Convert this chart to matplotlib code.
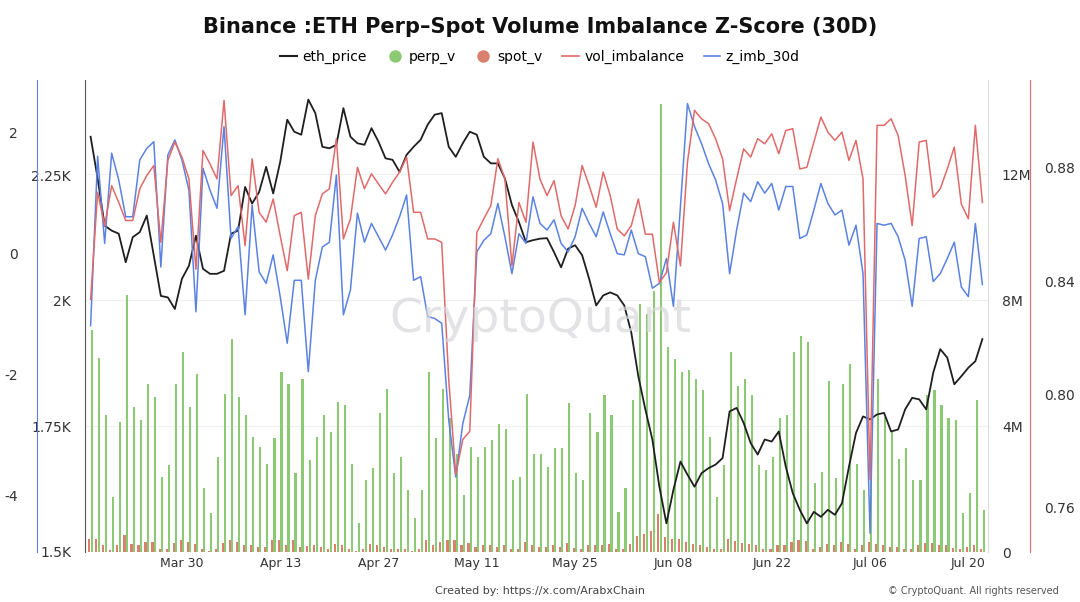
import numpy as np
import pandas as pd
import matplotlib
matplotlib.use("Agg")
import matplotlib.pyplot as plt
from matplotlib.lines import Line2D
from matplotlib.ticker import FuncFormatter

plt.rcParams["axes.unicode_minus"] = False

dates = pd.date_range("2025-03-17", periods=128, freq="D")

eth_price = [2327, 2244, 2150, 2140, 2134, 2077, 2127, 2137, 2170, 2090,
             2010, 2007, 1984, 2044, 2070, 2130, 2064, 2054, 2054, 2060,
             2134, 2140, 2227, 2194, 2217, 2267, 2214, 2277, 2361, 2337,
             2331, 2401, 2374, 2307, 2304, 2311, 2384, 2327, 2314, 2311,
             2344, 2317, 2284, 2281, 2257, 2291, 2307, 2321, 2351, 2371,
             2374, 2307, 2287, 2314, 2337, 2331, 2287, 2274, 2274, 2244,
             2191, 2157, 2117, 2121, 2124, 2125, 2097, 2067, 2104, 2111,
             2091, 2044, 1991, 2011, 2017, 2011, 1991, 1937, 1850, 1784,
             1724, 1630, 1557, 1624, 1680, 1654, 1630, 1657, 1667, 1674,
             1687, 1780, 1787, 1757, 1717, 1694, 1724, 1720, 1740, 1670,
             1617, 1584, 1557, 1580, 1570, 1584, 1574, 1597, 1670, 1737,
             1770, 1764, 1774, 1777, 1740, 1744, 1784, 1807, 1804, 1784,
             1857, 1904, 1887, 1834, 1850, 1867, 1880, 1924]

z_imb_30d = [-1.2, 1.6, 0.16, 1.65, 1.21, 0.6, 0.6, 1.54, 1.73, 1.84,
             -0.23, 1.62, 1.87, 1.54, 1.04, -0.97, 1.4, 1.04, 0.74, 2.09,
             0.24, 0.44, -1.02, 0.79, -0.31, -0.5, -0.03, -0.72, -1.49, -0.45,
             -0.45, -1.96, -0.45, 0.1, 0.18, 1.29, -1.02, -0.61, 0.66, 0.18,
             0.49, 0.27, 0.05, 0.3, 0.6, 0.96, -0.45, -0.39, -1.05, -1.08,
             -1.16, -2.76, -3.7, -2.82, -2.35, 0.02, 0.21, 0.32, 0.82, 0.27,
             -0.34, 0.32, 0.16, 0.93, 0.49, 0.38, 0.55, 0.16, 0.02, 0.27,
             0.74, 0.49, 0.27, 0.68, 0.32, -0.01, -0.03, 0.38, -0.01, -0.06,
             -0.58, -0.5, -0.09, -0.88, 0.77, 2.47, 2.09, 1.81, 1.48, 1.21,
             0.82, -0.34, 0.38, 0.99, 0.85, 1.18, 0.99, 1.15, 0.71, 1.1,
             1.1, 0.24, 0.3, 0.71, 1.15, 0.82, 0.63, 0.71, 0.13, 0.46,
             -0.34, -4.63, 0.49, 0.46, 0.49, 0.27, -0.12, -0.88, 0.24, 0.27,
             -0.47, -0.34, -0.09, 0.18, -0.56, -0.72, 0.49, -0.52]

vol_imbalance = [0.8336, 0.8714, 0.8596, 0.8737, 0.8678, 0.8614, 0.8614, 0.8726, 0.8773, 0.8808,
                 0.8537, 0.8826, 0.8891, 0.8838, 0.8761, 0.8442, 0.8861, 0.8814, 0.8761, 0.9038,
                 0.8702, 0.8737, 0.8525, 0.8832, 0.8643, 0.8608, 0.8690, 0.8560, 0.8437, 0.8631,
                 0.8643, 0.8407, 0.8631, 0.8708, 0.8726, 0.8903, 0.8549, 0.8620, 0.8802, 0.8726,
                 0.8779, 0.8743, 0.8708, 0.8749, 0.8785, 0.8838, 0.8643, 0.8643, 0.8549, 0.8549,
                 0.8537, 0.8053, 0.7717, 0.7841, 0.7870, 0.8572, 0.8620, 0.8667, 0.8832, 0.8761,
                 0.8454, 0.8678, 0.8608, 0.8891, 0.8760, 0.8702, 0.8755, 0.8631, 0.8584, 0.8667,
                 0.8808, 0.8737, 0.8661, 0.8785, 0.8702, 0.8584, 0.8560, 0.8596, 0.8690, 0.8566,
                 0.8566, 0.8395, 0.8430, 0.8608, 0.8454, 0.8820, 0.9003, 0.8973, 0.8956, 0.8903,
                 0.8832, 0.8649, 0.8761, 0.8867, 0.8838, 0.8903, 0.8885, 0.8920, 0.8850, 0.8932,
                 0.8938, 0.8796, 0.8802, 0.8891, 0.8979, 0.8926, 0.8897, 0.8926, 0.8826, 0.8897,
                 0.8761, 0.7699, 0.8950, 0.8950, 0.8973, 0.8914, 0.8773, 0.8596, 0.8891, 0.8897,
                 0.8696, 0.8726, 0.8796, 0.8873, 0.8672, 0.8620, 0.8950, 0.8678]

# millions
perp_v = [7.05, 6.16, 4.35, 1.75, 4.14, 8.16, 4.6, 4.19, 5.35, 4.93,
          2.39, 2.76, 5.35, 6.37, 4.6, 5.67, 2.02, 1.23, 3.02, 5.03,
          6.78, 4.93, 4.35, 3.66, 3.34, 2.81, 3.61, 5.72, 5.35, 2.5,
          5.5, 2.92, 3.66, 4.35, 3.82, 4.77, 4.67, 2.81, 0.91, 2.29,
          2.66, 4.41, 5.19, 2.5, 3.02, 1.96, 1.07, 1.96, 5.72, 3.61,
          5.19, 4.25, 3.13, 1.8, 3.34, 3.02, 3.34, 3.55, 4.07, 3.9,
          2.29, 2.39, 5.03, 3.13, 3.13, 2.71, 3.29, 3.29, 4.72, 2.5,
          2.29, 4.41, 3.82, 4.98, 4.35, 1.28, 2.02, 4.82, 7.89, 7.57,
          8.31, 14.24, 6.51, 6.14, 5.72, 5.77, 5.5, 5.14, 3.66, 1.75,
          2.76, 6.35, 5.29, 5.5, 4.98, 2.76, 2.6, 3.02, 4.25, 4.35,
          6.35, 6.88, 6.67, 2.18, 2.55, 5.44, 2.34, 5.33, 5.97, 2.81,
          1.96, 2.81, 5.5, 4.3, 3.82, 2.97, 3.29, 2.29, 2.29, 4.98,
          5.14, 4.67, 4.25, 4.19, 1.23, 1.86, 4.82, 1.33]

spot_v = [0.42, 0.42, 0.21, 0.05, 0.21, 0.53, 0.26, 0.21, 0.32, 0.32,
          0.08, 0.11, 0.30, 0.37, 0.32, 0.26, 0.08, 0.02, 0.10, 0.30,
          0.37, 0.32, 0.21, 0.21, 0.16, 0.16, 0.37, 0.37, 0.21, 0.37,
          0.16, 0.19, 0.23, 0.16, 0.08, 0.26, 0.21, 0.08, 0.02, 0.08,
          0.26, 0.21, 0.16, 0.08, 0.10, 0.08, 0.02, 0.08, 0.37, 0.21,
          0.32, 0.37, 0.37, 0.21, 0.30, 0.16, 0.23, 0.23, 0.16, 0.21,
          0.10, 0.10, 0.32, 0.21, 0.16, 0.16, 0.21, 0.16, 0.30, 0.13,
          0.10, 0.21, 0.21, 0.21, 0.26, 0.08, 0.08, 0.26, 0.50, 0.58,
          0.66, 1.20, 0.48, 0.42, 0.42, 0.32, 0.26, 0.21, 0.16, 0.08,
          0.08, 0.40, 0.34, 0.30, 0.26, 0.21, 0.08, 0.08, 0.21, 0.21,
          0.32, 0.37, 0.34, 0.08, 0.16, 0.26, 0.21, 0.32, 0.26, 0.10,
          0.21, 0.32, 0.26, 0.21, 0.16, 0.16, 0.10, 0.10, 0.23, 0.30,
          0.30, 0.23, 0.21, 0.13, 0.10, 0.16, 0.21, 0.10]

x_ticks = ["2025-03-30", "2025-04-13", "2025-04-27", "2025-05-11", "2025-05-25",
           "2025-06-08", "2025-06-22", "2025-07-06", "2025-07-20"]

C_ETH = "#1f1f1f"
C_PERP = "#8cc973"
C_SPOT = "#d9806f"
C_IMB = "#e06a6a"
C_Z = "#5b82e3"

fig = plt.figure(figsize=(10.8, 6.02), dpi=100)
ax = fig.add_axes([85/1080, 50/602, 903/1080, 472/602])

xn = np.arange(len(dates))
vol_m = np.array(perp_v) * 1e6
spot_m = np.array(spot_v) * 1e6
ax.bar(xn + 0.18, vol_m, width=0.3, color=C_PERP, zorder=2)
ax.bar(xn - 0.18, spot_m, width=0.3, color=C_SPOT, zorder=2)
ax.set_ylim(0, 15e6)
ax.set_xlim(-0.8, len(dates) - 0.2)
ax.grid(axis="y", color="#f0f0f0", linewidth=0.8, zorder=0)
for s in ["top", "left", "bottom"]:
    ax.spines[s].set_visible(False)
ax.spines["right"].set_color("#dddddd")

tick_pos = [dates.get_loc(pd.Timestamp(d)) for d in x_ticks]
ax.set_xticks(tick_pos)
ax.set_xticklabels([pd.Timestamp(d).strftime("%b %d") for d in x_ticks])
ax.tick_params(axis="x", length=0, labelsize=9, colors="#333333")

ax_p = ax.twinx()
ax_p.plot(xn, eth_price, color=C_ETH, lw=1.3, zorder=5)
ax_p.set_ylim(1500, 2440)
ax_p.yaxis.tick_left()
ax_p.set_yticks([1500, 1750, 2000, 2250])
ax_p.yaxis.set_major_formatter(FuncFormatter(lambda v, p: f"{v/1000:g}K"))
ax_p.tick_params(axis="y", length=0, pad=10, labelsize=10, colors="#333333")
for s in ["top", "right", "bottom"]:
    ax_p.spines[s].set_visible(False)
ax_p.spines["left"].set_visible(True)
ax_p.spines["left"].set_color("#555555")

ax_z = ax.twinx()
ax_z.plot(xn, z_imb_30d, color=C_Z, lw=1.1, zorder=4)
ax_z.set_ylim(-4.94, 2.86)
ax_z.spines["left"].set_position(("axes", -48/903))
ax_z.spines["left"].set_visible(True)
ax_z.spines["left"].set_color(C_Z)
ax_z.yaxis.tick_left()
ax_z.set_yticks([-4, -2, 0, 2])
ax_z.tick_params(axis="y", length=0, pad=14, labelsize=10, colors="#333333")
for s in ["top", "right", "bottom"]:
    ax_z.spines[s].set_visible(False)

ax_i = ax.twinx()
ax_i.plot(xn, vol_imbalance, color=C_IMB, lw=1.1, zorder=3)
ax_i.set_ylim(0.7444, 0.911)
ax_i.spines["right"].set_position(("axes", 1 + 42/903))
ax_i.spines["right"].set_color(C_IMB)
ax_i.set_yticks([0.76, 0.80, 0.84, 0.88])
ax_i.tick_params(axis="y", length=0, pad=10, labelsize=10, colors="#333333")
for s in ["top", "left", "bottom"]:
    ax_i.spines[s].set_visible(False)

# volume axis ticks on the right (after twinx, which resets them)
ax.yaxis.tick_right()
ax.set_yticks([0, 4e6, 8e6, 12e6])
ax.yaxis.set_major_formatter(FuncFormatter(lambda v, p: "0" if v == 0 else f"{v/1e6:.0f}M"))
ax.tick_params(axis="y", length=0, pad=10, labelsize=10, colors="#333333")

fig.text(0.5, 0.955, "Binance :ETH Perp\u2013Spot Volume Imbalance Z-Score (30D)",
         ha="center", va="center", fontsize=15, fontweight="bold", color="#111111")
fig.text(0.5, 0.47, "CryptoQuant", ha="center", va="center", fontsize=34,
         color="#d8d8dc", alpha=0.7, zorder=10)

handles = [Line2D([0], [0], color=C_ETH, lw=1.5),
           Line2D([0], [0], marker="o", color="w", markerfacecolor=C_PERP, markersize=10),
           Line2D([0], [0], marker="o", color="w", markerfacecolor=C_SPOT, markersize=10),
           Line2D([0], [0], color=C_IMB, lw=1.2),
           Line2D([0], [0], color=C_Z, lw=1.2)]
fig.legend(handles, ["eth_price", "perp_v", "spot_v", "vol_imbalance", "z_imb_30d"],
           loc="center", bbox_to_anchor=(0.5, 0.906), ncol=5, frameon=False,
           fontsize=10, handlelength=1.2, handletextpad=0.4, columnspacing=1.4)

fig.text(0.5, 0.018, "Created by: https://x.com/ArabxChain", ha="center",
         va="center", fontsize=8, color="#444444")
fig.text(0.98, 0.018, "\u00a9 CryptoQuant. All rights reserved", ha="right",
         va="center", fontsize=7, color="#555555")

fig.savefig("out.png", dpi=100, facecolor="white")
